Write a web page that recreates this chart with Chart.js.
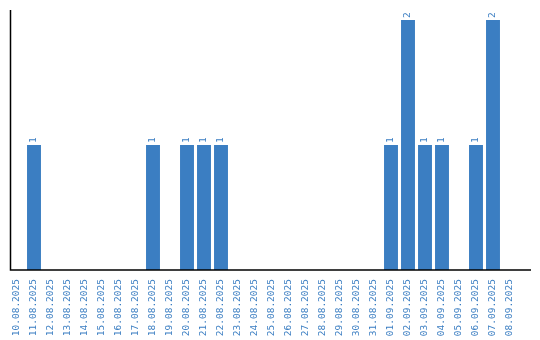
<!DOCTYPE html>
<html>
<head>
<meta charset="utf-8">
<script src="https://cdn.jsdelivr.net/npm/chart.js@4"></script>
<style>
  html, body { margin: 0; padding: 0; background: #fff; }
  #wrap { width: 540px; height: 340px; }
</style>
</head>
<body>
<div id="wrap"><canvas id="chart"></canvas></div>
<script>
// --- Data ---
const dates = [
  "10.08.2025", "11.08.2025", "12.08.2025", "13.08.2025", "14.08.2025",
  "15.08.2025", "16.08.2025", "17.08.2025", "18.08.2025", "19.08.2025",
  "20.08.2025", "21.08.2025", "22.08.2025", "23.08.2025", "24.08.2025",
  "25.08.2025", "26.08.2025", "27.08.2025", "28.08.2025", "29.08.2025",
  "30.08.2025", "31.08.2025", "01.09.2025", "02.09.2025", "03.09.2025",
  "04.09.2025", "05.09.2025", "06.09.2025", "07.09.2025", "08.09.2025"
];
const counts = [
  0, 1, 0, 0, 0, 0, 0, 0, 1, 0,
  1, 1, 1, 0, 0, 0, 0, 0, 0, 0,
  0, 0, 1, 2, 1, 1, 0, 1, 2, 0
];

const blue = "#3b7ec2";
const labelFont = "DejaVu Sans Mono";

// value labels above bars, rotated
const valueLabels = {
  id: "valueLabels",
  afterDatasetsDraw(chart) {
    const c = chart.ctx;
    const meta = chart.getDatasetMeta(0);
    c.save();
    c.fillStyle = blue;
    c.font = "9.5px '" + labelFont + "'";
    c.textAlign = "left";
    c.textBaseline = "middle";
    meta.data.forEach((bar, i) => {
      if (!counts[i]) return;
      c.save();
      c.translate(bar.x, bar.y - 2);
      c.rotate(-Math.PI / 2);
      c.fillText(String(counts[i]), 0, 0);
      c.restore();
    });
    c.restore();
  }
};

// axis lines
const axisLines = {
  id: "axisLines",
  afterDraw(chart) {
    const a = chart.chartArea;
    const c = chart.ctx;
    c.save();
    c.strokeStyle = "#000";
    c.lineWidth = 1.5;
    c.beginPath();
    c.moveTo(a.left + 2, a.top);
    c.lineTo(a.left + 2, a.bottom);
    c.lineTo(a.right + 12.5, a.bottom);
    c.stroke();
    c.restore();
  }
};

const ctx = document.getElementById("chart");
new Chart(ctx, {
  type: "bar",
  data: {
    labels: dates,
    datasets: [{
      data: counts,
      backgroundColor: blue,
      borderWidth: 0,
      barPercentage: 0.82,
      categoryPercentage: 1
    }]
  },
  options: {
    responsive: true,
    maintainAspectRatio: false,
    animation: false,
    layout: { padding: { left: 8.5, right: 21.5, top: 10, bottom: 0 } },
    plugins: {
      legend: { display: false },
      tooltip: { enabled: false }
    },
    scales: {
      x: {
        grid: { display: false, drawTicks: false },
        border: { display: false },
        ticks: {
          color: blue,
          font: { family: labelFont, size: 9.5 },
          minRotation: 90,
          maxRotation: 90,
          autoSkip: false,
          padding: 9
        },
        afterFit(scale) { scale.height = 70; }
      },
      y: {
        display: false,
        min: 0,
        max: 2.08
      }
    }
  },
  plugins: [valueLabels, axisLines]
});
</script>
</body>
</html>
